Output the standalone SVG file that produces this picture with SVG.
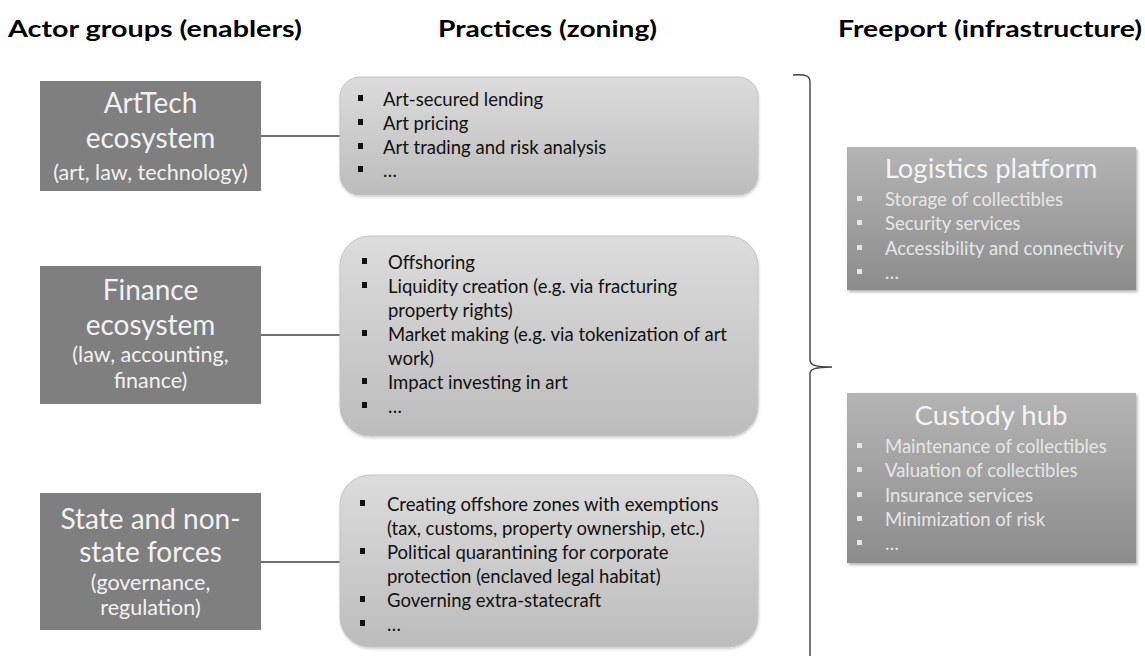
<svg xmlns="http://www.w3.org/2000/svg" width="1145" height="656" viewBox="0 0 1145 656">
<style>
.title{font-family:Lato,"Liberation Sans",sans-serif;font-weight:bold;font-size:23px;fill:#000}
.actor{fill:#7f7f7f}
.abig{font-family:Lato,"Liberation Sans",sans-serif;font-size:28px;fill:#f2f2f2;text-anchor:middle}
.asmall{font-family:Lato,"Liberation Sans",sans-serif;font-size:21.5px;fill:#f2f2f2;text-anchor:middle}
.prac{fill:url(#pg);stroke:#c4c4c4;stroke-width:1}
.ptxt{font-family:Lato,"Liberation Sans",sans-serif;font-size:18.5px;fill:#111}
.blk{fill:#111}
.fp{fill:url(#fg)}
.ftitle{font-family:Lato,"Liberation Sans",sans-serif;font-size:27.5px;fill:#f4f4f4;text-anchor:middle}
.ftxt{font-family:Lato,"Liberation Sans",sans-serif;font-size:18.5px;fill:#e6e6e6}
.wb{fill:#e6e6e6}
.conn{stroke:#404040;stroke-width:1.4;fill:none}
</style>
<defs>
<linearGradient id="pg" x1="0" y1="0" x2="0" y2="1">
<stop offset="0" stop-color="#dcdcdc"/>
<stop offset="1" stop-color="#bcbcbc"/>
</linearGradient>
<linearGradient id="fg" x1="0" y1="0" x2="0" y2="1">
<stop offset="0" stop-color="#b4b4b4"/>
<stop offset="1" stop-color="#8c8c8c"/>
</linearGradient>
<filter id="sh" x="-10%" y="-10%" width="120%" height="130%">
<feDropShadow dx="1.5" dy="2" stdDeviation="1.5" flood-color="#000" flood-opacity="0.3"/>
</filter>
<filter id="sh2" x="-10%" y="-10%" width="120%" height="130%">
<feDropShadow dx="0.5" dy="1.5" stdDeviation="1.2" flood-color="#000" flood-opacity="0.2"/>
</filter>
</defs>
<rect width="1145" height="656" fill="#fff"/>

<g id="titles">
<text class="title" x="8" y="37" textLength="294" lengthAdjust="spacingAndGlyphs">Actor groups (enablers)</text>
<text class="title" x="438" y="37" textLength="219" lengthAdjust="spacingAndGlyphs">Practices (zoning)</text>
<text class="title" x="838" y="37" textLength="304" lengthAdjust="spacingAndGlyphs">Freeport (infrastructure)</text>
</g>

<g id="connectors">
<line class="conn" x1="261" y1="136" x2="340" y2="136"/>
<line class="conn" x1="261" y1="335" x2="340" y2="335"/>
<line class="conn" x1="261" y1="562" x2="340" y2="562"/>
<path class="conn" d="M793,75 C806,74 810,76 810,82 L810,360 C810,365 815,367 832,367 C815,367 810,369 810,374 L810,656"/>
</g>

<g id="actor-arttech">
<rect class="actor" x="40" y="81" width="221" height="110"/>
<text class="abig" x="150.5" y="113">ArtTech</text>
<text class="abig" x="150.5" y="148">ecosystem</text>
<text class="asmall" x="150.5" y="180">(art, law, technology)</text>
</g>

<g id="actor-finance">
<rect class="actor" x="40" y="266" width="221" height="138"/>
<text class="abig" x="150.5" y="300">Finance</text>
<text class="abig" x="150.5" y="335">ecosystem</text>
<text class="asmall" x="150.5" y="362">(law, accounting,</text>
<text class="asmall" x="150.5" y="388">finance)</text>
</g>

<g id="actor-state">
<rect class="actor" x="40" y="493" width="221" height="137"/>
<text class="abig" x="150.5" y="529">State and non-</text>
<text class="abig" x="150.5" y="562">state forces</text>
<text class="asmall" x="150.5" y="590">(governance,</text>
<text class="asmall" x="150.5" y="615">regulation)</text>
</g>

<g id="practice-arttech">
<rect class="prac" x="340" y="77" width="418" height="118" rx="20" filter="url(#sh2)"/>
<rect class="blk" x="358" y="95" width="5" height="6"/>
<rect class="blk" x="358" y="119" width="5" height="6"/>
<rect class="blk" x="358" y="143" width="5" height="6"/>
<rect class="blk" x="358" y="166" width="5" height="6"/>
<text class="ptxt" x="383" y="106">Art-secured lending</text>
<text class="ptxt" x="383" y="130">Art pricing</text>
<text class="ptxt" x="383" y="154">Art trading and risk analysis</text>
<text class="ptxt" x="383" y="177">…</text>
</g>

<g id="practice-finance">
<rect class="prac" x="340" y="236" width="418" height="200" rx="30" filter="url(#sh2)"/>
<rect class="blk" x="362" y="258" width="5" height="6"/>
<rect class="blk" x="362" y="282" width="5" height="6"/>
<rect class="blk" x="362" y="330" width="5" height="6"/>
<rect class="blk" x="362" y="378" width="5" height="6"/>
<rect class="blk" x="362" y="402" width="5" height="6"/>
<text class="ptxt" x="388" y="269">Offshoring</text>
<text class="ptxt" x="388" y="293">Liquidity creation (e.g. via fracturing</text>
<text class="ptxt" x="388" y="317">property rights)</text>
<text class="ptxt" x="388" y="341">Market making (e.g. via tokenization of art</text>
<text class="ptxt" x="388" y="365">work)</text>
<text class="ptxt" x="388" y="389">Impact investing in art</text>
<text class="ptxt" x="388" y="413">…</text>
</g>

<g id="practice-state">
<rect class="prac" x="340" y="475" width="418" height="172" rx="30" filter="url(#sh2)"/>
<rect class="blk" x="360" y="500" width="5" height="6"/>
<rect class="blk" x="360" y="548" width="5" height="6"/>
<rect class="blk" x="360" y="596" width="5" height="6"/>
<rect class="blk" x="360" y="620" width="5" height="6"/>
<text class="ptxt" x="387" y="511">Creating offshore zones with exemptions</text>
<text class="ptxt" x="387" y="535">(tax, customs, property ownership, etc.)</text>
<text class="ptxt" x="387" y="559">Political quarantining for corporate</text>
<text class="ptxt" x="387" y="583">protection (enclaved legal habitat)</text>
<text class="ptxt" x="387" y="607">Governing extra-statecraft</text>
<text class="ptxt" x="387" y="631">…</text>
</g>

<g id="freeport-logistics">
<rect class="fp" x="847" y="147" width="289" height="143" filter="url(#sh)"/>
<text class="ftitle" x="991" y="178">Logistics platform</text>
<rect class="wb" x="857" y="196" width="5" height="5"/>
<rect class="wb" x="857" y="220" width="5" height="5"/>
<rect class="wb" x="857" y="245" width="5" height="5"/>
<rect class="wb" x="857" y="269" width="5" height="5"/>
<text class="ftxt" x="885" y="206">Storage of collectibles</text>
<text class="ftxt" x="885" y="230">Security services</text>
<text class="ftxt" x="885" y="255">Accessibility and connectivity</text>
<text class="ftxt" x="885" y="279">…</text>
</g>

<g id="freeport-custody">
<rect class="fp" x="847" y="393" width="289" height="170" filter="url(#sh)"/>
<text class="ftitle" x="991" y="425">Custody hub</text>
<rect class="wb" x="857" y="443" width="5" height="5"/>
<rect class="wb" x="857" y="467" width="5" height="5"/>
<rect class="wb" x="857" y="492" width="5" height="5"/>
<rect class="wb" x="857" y="516" width="5" height="5"/>
<rect class="wb" x="857" y="540" width="5" height="5"/>
<text class="ftxt" x="885" y="453">Maintenance of collectibles</text>
<text class="ftxt" x="885" y="477">Valuation of collectibles</text>
<text class="ftxt" x="885" y="502">Insurance services</text>
<text class="ftxt" x="885" y="526">Minimization of risk</text>
<text class="ftxt" x="885" y="550">…</text>
</g>
</svg>
